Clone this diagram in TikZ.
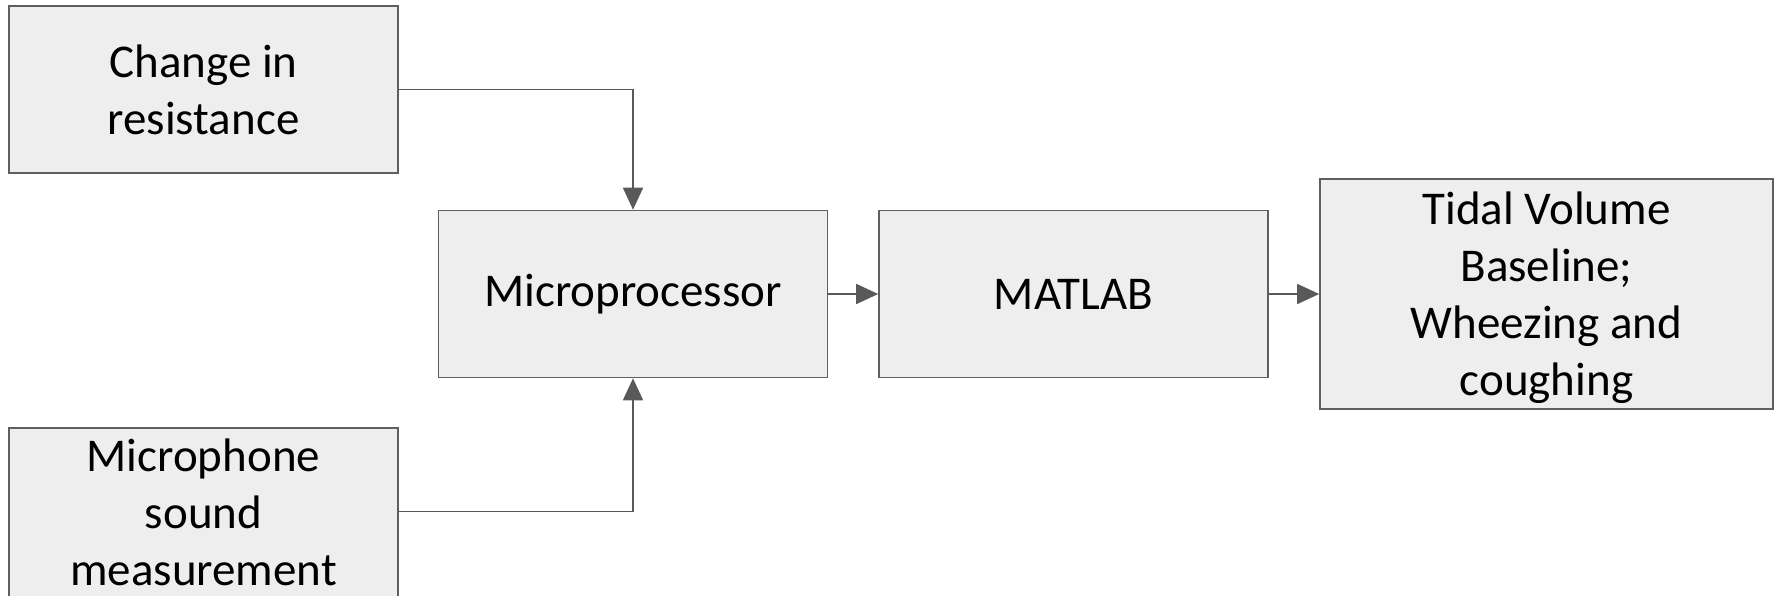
\documentclass[tikz,border=0pt]{standalone}
\usepackage{fontspec}
\setmainfont{Carlito}
\usetikzlibrary{arrows.meta}
\definecolor{boxfill}{HTML}{EEEEEE}
\definecolor{boxline}{HTML}{5F5F5F}
\definecolor{arrowc}{HTML}{595959}
\begin{document}
\begin{tikzpicture}[x=1pt,y=-1pt,
  blockbox/.style={draw=boxline,fill=boxfill,line width=1.6pt,minimum width=389pt,minimum height=167pt,align=center,inner sep=0pt,font=\fontsize{47}{57}\selectfont},
  conn/.style={draw=arrowc,line width=1.6pt,-{Triangle[length=22pt,width=20pt]}}]
\useasboundingbox (0,0) rectangle (1777,595);
\begin{scope}
\clip (0,0) rectangle (1777,595);
\node[blockbox] (res) at (203.5,89.5) {Change in\\resistance};
\node[blockbox] (mp) at (633,294) {Microprocessor};
\node[blockbox] (mat) at (1073.5,294) {MATLAB};
\node[blockbox,minimum width=453pt,minimum height=230pt] (tid) at (1546.5,294) {\\[-17pt]Tidal Volume\\Baseline;\\Wheezing and\\coughing};
\node[blockbox,minimum height=181pt] (mic) at (203.5,518.5) {\\[-36pt]Microphone\\sound\\measurement};
\draw[conn] (res.east) -| (mp.north);
\draw[conn] ([yshift=7pt]mic.east) -| (mp.south);
\draw[conn] (mp.east) -- (mat.west);
\draw[conn] (mat.east) -- (tid.west);
\end{scope}
\end{tikzpicture}
\end{document}
